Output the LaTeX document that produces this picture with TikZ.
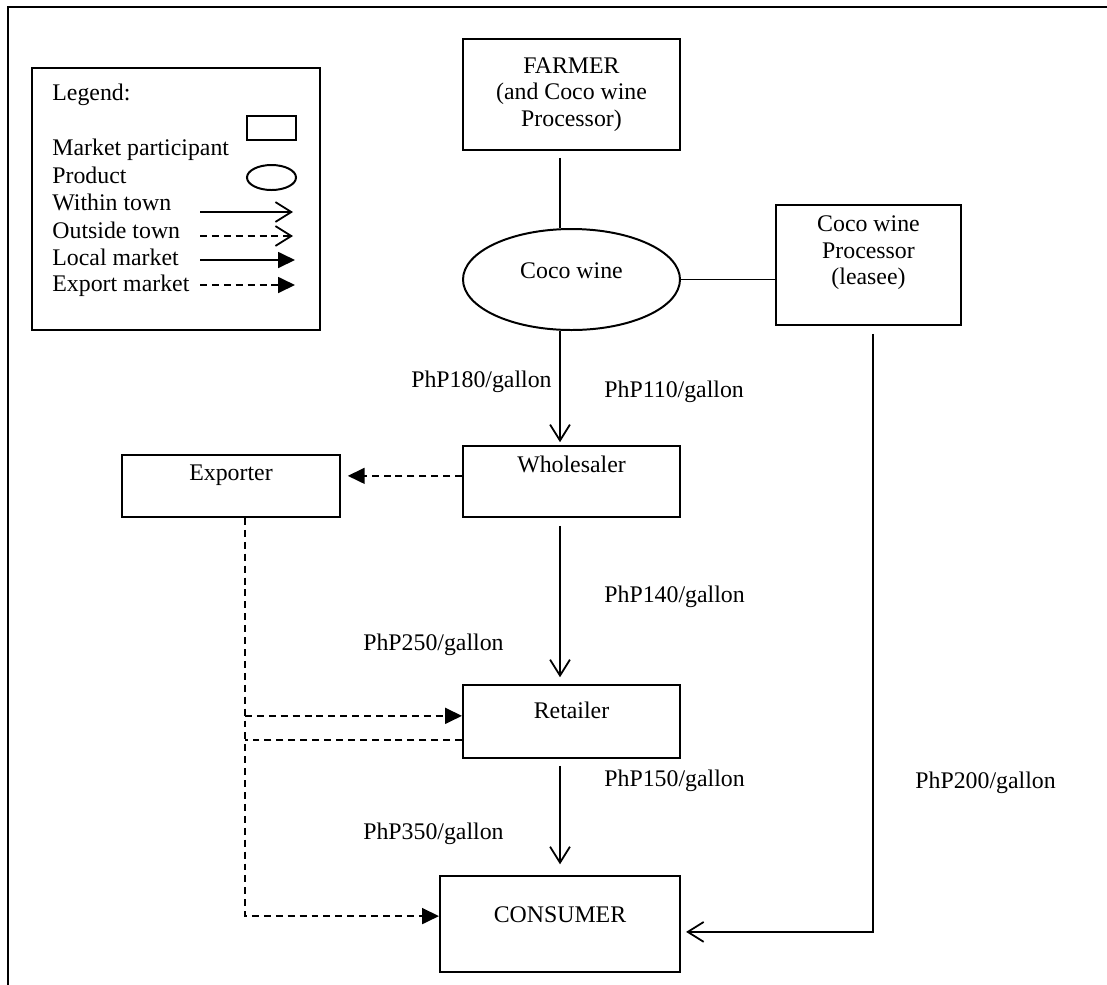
\documentclass[tikz,border=0pt]{standalone}
\usepackage{fontspec}
\setmainfont{Liberation Serif}
\usetikzlibrary{arrows.meta,shapes.geometric}
\newcommand{\pxl}{0.0177cm}
\tikzstyle{participant}=[draw,line width=1pt,rectangle,inner sep=0pt,align=center]
\tikzstyle{oneline}=[participant,text height=8pt]
\tikzstyle{product}=[draw,line width=1pt,ellipse,inner sep=0pt]
\tikzstyle{withintown}=[line width=0.9pt,-{Straight Barb[length=8pt,width=10pt]}]
\tikzstyle{outsidetown}=[withintown,dash pattern=on 3.5pt off 2.5pt]
\tikzstyle{localmkt}=[line width=0.9pt,-{Triangle[length=8.5pt,width=8pt]}]
\tikzstyle{exportmkt}=[localmkt,dash pattern=on 3.5pt off 2.5pt]
\tikzstyle{price}=[inner sep=0pt]
\tikzstyle{legendtext}=[inner sep=0pt,anchor=base west]
\begin{document}
\begin{tikzpicture}[
x=\pxl,y=-\pxl,
font=\fontsize{12pt}{13.3pt}\selectfont
]
\useasboundingbox (0,0) rectangle (1107,984);
%outer frame
\draw[line width=1.3pt] (1120,7) -- (8,7) -- (8,1000);
%legend
\node[draw,line width=1pt,minimum width=288*\pxl,minimum height=262*\pxl] (legend) at (176,199) {};
\node[legendtext] (lgtitle) at (52,100) {Legend:};
\node[legendtext] (lgpart) at (52,155) {Market participant};
\node[legendtext] (lgprod) at (52,183) {Product};
\node[legendtext] (lgwithin) at (52,210) {Within town};
\node[legendtext] (lgoutside) at (52,238) {Outside town};
\node[legendtext] (lglocal) at (52,265) {Local market};
\node[legendtext] (lgexport) at (52,291) {Export market};
\node[draw,line width=1pt,minimum width=49*\pxl,minimum height=24*\pxl] (lgbox) at (271.5,128) {};
\node[draw,line width=1pt,ellipse,minimum width=49*\pxl,minimum height=25*\pxl] (lgoval) at (271.5,177.5) {};
\draw[withintown] (200,212) -- (293,212);
\draw[outsidetown] (200,236) -- (293,236);
\draw[localmkt] (200,260) -- (295,260);
\draw[exportmkt] (200,285) -- (295,285);
%market participants
\node[participant,minimum width=217*\pxl,minimum height=111*\pxl] (farmer) at (571.5,94.5) {FARMER\\(and Coco wine\\Processor)};
\node[product,text height=8pt,text depth=9.5pt,minimum width=217*\pxl,minimum height=101*\pxl] (coco) at (571.5,279.5) {Coco wine};
\node[participant,text depth=15pt,minimum width=185*\pxl,minimum height=120*\pxl] (proc) at (868.5,265) {Coco wine\\Processor\\(leasee)};
\node[oneline,text depth=17.5pt,minimum width=217*\pxl,minimum height=71*\pxl] (whole) at (571.5,481.5) {Wholesaler};
\node[oneline,text depth=14pt,minimum width=218*\pxl,minimum height=62*\pxl] (exp) at (231,486) {Exporter};
\node[oneline,text depth=11.5pt,minimum width=217*\pxl,minimum height=73*\pxl] (retail) at (571.5,721.5) {Retailer};
\node[oneline,text depth=10pt,minimum width=240*\pxl,minimum height=96*\pxl] (cons) at (560,924) {CONSUMER};
%flows
\coordinate (axis) at (560,0);
\coordinate (exline) at (245,0);
\draw[line width=0.9pt,shorten <=0.12cm] (farmer.south -| axis) -- (coco.north -| axis);
\draw[line width=0.9pt] (coco.east) -- (proc.west |- coco.east);
\draw[withintown,shorten >=0.05cm] (coco.south -| axis) -- (whole.north -| axis);
\draw[withintown,shorten <=0.14cm,shorten >=0.12cm] (whole.south -| axis) -- (retail.north -| axis);
\draw[withintown,shorten <=0.12cm,shorten >=0.19cm] (retail.south -| axis) -- (cons.north -| axis);
\coordinate (pdown) at ([xshift=0.08cm]proc.south);
\coordinate (cright) at ([yshift=-0.14cm]cons.east);
\draw[withintown,shorten <=0.14cm,shorten >=0.09cm] (pdown) |- (cright);
%export flows
\coordinate (wout) at ([yshift=0.1cm]whole.west);
\coordinate (rin) at ([yshift=0.1cm]retail.west);
\coordinate (rout) at ([yshift=-0.33cm]retail.west);
\coordinate (cin) at ([yshift=0.14cm]cons.west);
\draw[exportmkt,shorten >=0.12cm] (wout) -- (wout -| exp.east);
\draw[exportmkt] (exp.south -| exline) |- (cin);
\draw[exportmkt] (rin -| exline) -- (rin);
\draw[line width=0.9pt,dash pattern=on 3.5pt off 2.5pt] (rout) -- (rout -| exline);
%prices
\node[price,anchor=east] (p180) at (552,382) {PhP180/gallon};
\node[price,anchor=west] (p110) at (604,392) {PhP110/gallon};
\node[price,anchor=west] (p140) at (604,597) {PhP140/gallon};
\node[price,anchor=east] (p250) at (504,645) {PhP250/gallon};
\node[price,anchor=west] (p150) at (604,781) {PhP150/gallon};
\node[price,anchor=east] (p350) at (504,834) {PhP350/gallon};
\node[price,anchor=west] (p200) at (915,783) {PhP200/gallon};
\end{tikzpicture}
\end{document}
